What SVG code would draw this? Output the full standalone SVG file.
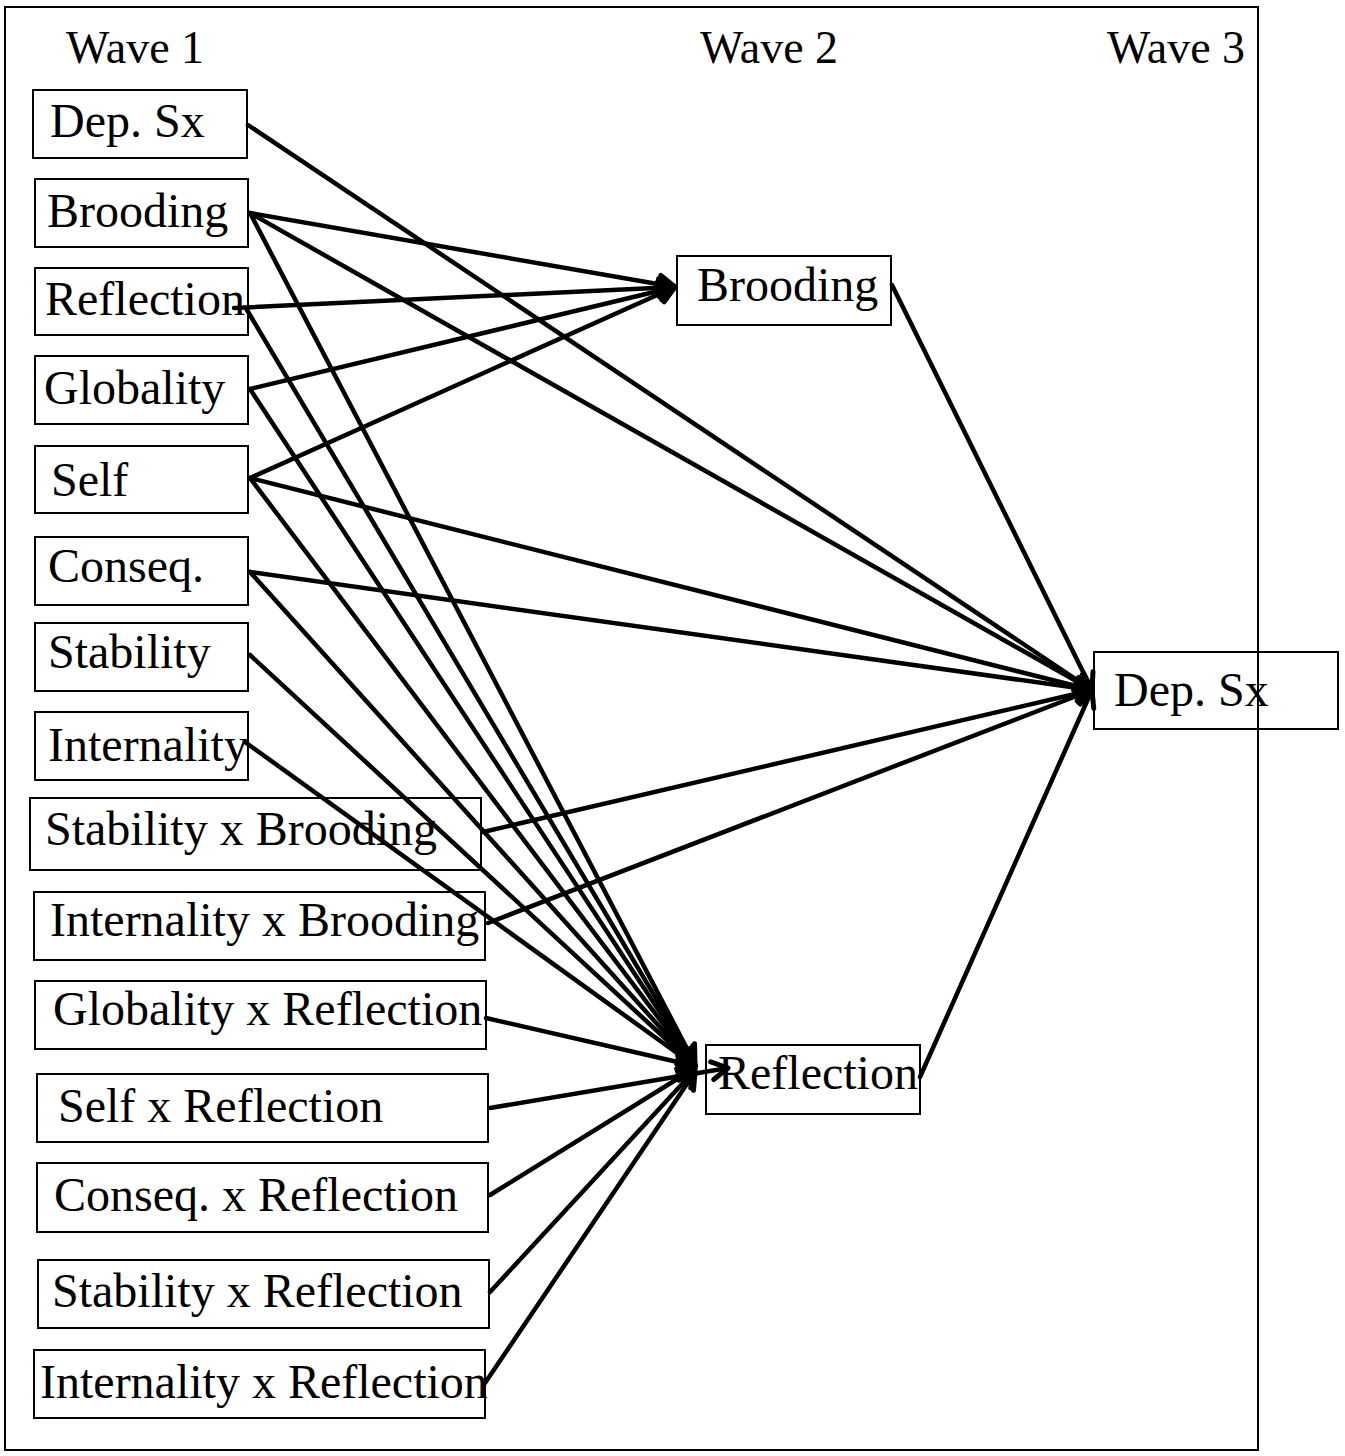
<svg xmlns="http://www.w3.org/2000/svg" width="1345" height="1456" viewBox="0 0 1345 1456">
<style>
.box{fill:none;stroke:#000;stroke-width:2}
.lbl{font-family:"Liberation Serif","Times New Roman",serif;font-size:48px;fill:#000}
.wave{font-family:"Liberation Serif","Times New Roman",serif;font-size:46px;fill:#000}
.c{stroke:#000;stroke-width:4.5;fill:none;stroke-linecap:round;marker-end:url(#ah)}
</style>
<defs>
<marker id="ah" markerUnits="userSpaceOnUse" markerWidth="28" markerHeight="28" viewBox="0 0 28 28" refX="22" refY="14" orient="auto" overflow="visible">
<path d="M6,5 L22,14 L6,23" fill="none" stroke="#000" stroke-width="5" stroke-linecap="round" stroke-linejoin="round"/>
</marker>
</defs>
<rect x="0" y="0" width="1345" height="1456" fill="#fff"/>
<g id="headers">
<text class="wave" x="66" y="63">Wave 1</text>
<text class="wave" x="700" y="63">Wave 2</text>
<text class="wave" x="1107" y="63">Wave 3</text>
</g>
<g id="w1_dep"><rect class="box" x="33" y="90" width="214" height="68"/><text class="lbl" x="50" y="137">Dep. Sx</text></g>
<g id="w1_brooding"><rect class="box" x="35" y="179" width="213" height="68"/><text class="lbl" x="47" y="227">Brooding</text></g>
<g id="w1_reflection"><rect class="box" x="35" y="268" width="213" height="67"/><text class="lbl" x="45" y="315">Reflection</text></g>
<g id="w1_globality"><rect class="box" x="35" y="356" width="213" height="68"/><text class="lbl" x="44" y="404">Globality</text></g>
<g id="w1_self"><rect class="box" x="35" y="446" width="213" height="67"/><text class="lbl" x="51" y="496">Self</text></g>
<g id="w1_conseq"><rect class="box" x="35" y="537" width="213" height="68"/><text class="lbl" x="48" y="582">Conseq.</text></g>
<g id="w1_stability"><rect class="box" x="35" y="623" width="213" height="68"/><text class="lbl" x="48" y="668">Stability</text></g>
<g id="w1_internality"><rect class="box" x="35" y="712" width="213" height="68"/><text class="lbl" x="48" y="761">Internality</text></g>
<g id="w1_stab_x_brood"><rect class="box" x="30" y="798" width="451" height="72"/><text class="lbl" x="45" y="845">Stability x Brooding</text></g>
<g id="w1_int_x_brood"><rect class="box" x="34" y="892" width="451" height="68"/><text class="lbl" x="50" y="936">Internality x Brooding</text></g>
<g id="w1_glob_x_refl"><rect class="box" x="35" y="981" width="451" height="68"/><text class="lbl" x="53" y="1025">Globality x Reflection</text></g>
<g id="w1_self_x_refl"><rect class="box" x="37" y="1074" width="451" height="68"/><text class="lbl" x="58" y="1122">Self x Reflection</text></g>
<g id="w1_conseq_x_refl"><rect class="box" x="37" y="1163" width="451" height="69"/><text class="lbl" x="54" y="1211">Conseq. x Reflection</text></g>
<g id="w1_stab_x_refl"><rect class="box" x="38" y="1260" width="451" height="68"/><text class="lbl" x="52" y="1307">Stability x Reflection</text></g>
<g id="w1_int_x_refl"><rect class="box" x="34" y="1350" width="451" height="68"/><text class="lbl" x="40" y="1398">Internality x Reflection</text></g>
<g id="w2_brooding"><rect class="box" x="677" y="256" width="214" height="69"/><text class="lbl" x="697" y="301">Brooding</text></g>
<g id="w2_reflection"><rect class="box" x="706" y="1045" width="214" height="69"/><text class="lbl" x="718" y="1089">Reflection</text></g>
<g id="w3_dep"><rect class="box" x="1094" y="652" width="244" height="77"/><text class="lbl" x="1114" y="706">Dep. Sx</text></g>
<g id="connectors">
<line class="c" x1="250" y1="213" x2="675" y2="287"/>
<line class="c" x1="234" y1="308" x2="675" y2="287"/>
<line class="c" x1="250" y1="389" x2="675" y2="287"/>
<line class="c" x1="250" y1="478" x2="675" y2="287"/>
<line class="c" x1="248" y1="125" x2="1092" y2="690"/>
<line class="c" x1="250" y1="213" x2="1092" y2="690"/>
<line class="c" x1="250" y1="478" x2="1092" y2="690"/>
<line class="c" x1="250" y1="572" x2="1092" y2="690"/>
<line class="c" x1="483" y1="832" x2="1092" y2="690"/>
<line class="c" x1="488" y1="923" x2="1092" y2="690"/>
<line class="c" x1="892" y1="285" x2="1092" y2="690"/>
<line class="c" x1="920" y1="1077" x2="1092" y2="690"/>
<line class="c" x1="250" y1="213" x2="694" y2="1062"/>
<line class="c" x1="247" y1="310" x2="695" y2="1064"/>
<line class="c" x1="250" y1="389" x2="694" y2="1064"/>
<line class="c" x1="250" y1="478" x2="695" y2="1066"/>
<line class="c" x1="250" y1="572" x2="695" y2="1066"/>
<line class="c" x1="250" y1="655" x2="695" y2="1066"/>
<line class="c" x1="245" y1="742" x2="695" y2="1066"/>
<line class="c" x1="486" y1="1018" x2="695" y2="1066"/>
<line class="c" x1="490" y1="1108" x2="728" y2="1068"/>
<line class="c" x1="490" y1="1195" x2="695" y2="1068"/>
<line class="c" x1="490" y1="1292" x2="695" y2="1070"/>
<line class="c" x1="485" y1="1383" x2="695" y2="1072"/>
</g>
<rect id="frame" x="5" y="7" width="1253" height="1443" fill="none" stroke="#000" stroke-width="2"/>
</svg>
